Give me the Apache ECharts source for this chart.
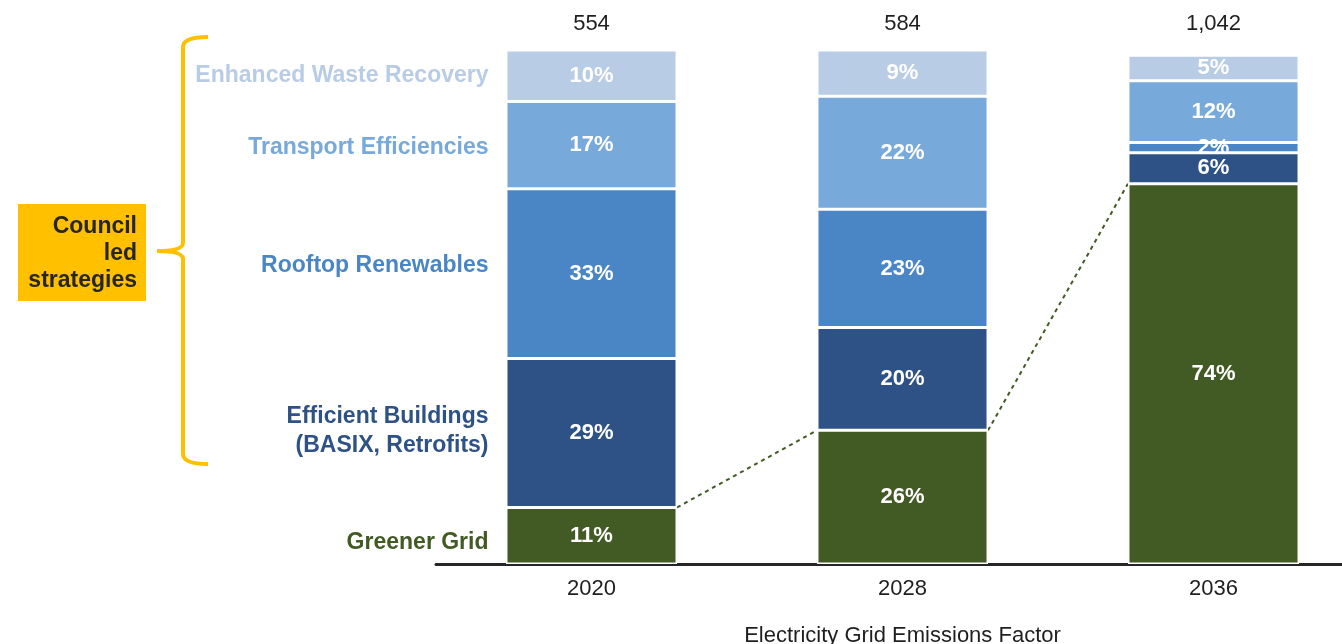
<!DOCTYPE html>
<html>
<head>
<meta charset="utf-8">
<title>Emissions reduction by strategy</title>
<script src="https://cdn.jsdelivr.net/npm/echarts@6.0.0/dist/echarts.min.js"></script>
<style>
  html, body { margin: 0; padding: 0; background: #ffffff; }
  #chart { width: 1342px; height: 644px; }
</style>
</head>
<body>
<div id="chart"></div>
<script>
// Years on the horizontal axis
const years = ['2020', '2028', '2036'];

// Total reduction for each year, shown above the bars
const totals = [554, 584, 1042];

// Share of each strategy per year (%), stacked bottom to top
const greenerGrid = [11, 26, 74];
const efficientBuildings = [29, 20, 6];
const rooftopRenewables = [33, 23, 2];
const transportEfficiencies = [17, 22, 12];
const wasteRecovery = [10, 9, 5];

// Strategy names, bottom to top
const strategyNames = [
  'Greener Grid',
  'Efficient Buildings\n(BASIX, Retrofits)',
  'Rooftop Renewables',
  'Transport Efficiencies',
  'Enhanced Waste Recovery'
];

const stackValues = [greenerGrid, efficientBuildings, rooftopRenewables, transportEfficiencies, wasteRecovery];
const fillColors = ['#425A24', '#2E5285', '#4A86C5', '#77A9DB', '#B8CCE6'];
const nameColors = ['#425A24', '#2E5285', '#4A86C5', '#77A9DB', '#B8CCE6'];
const nameNudge = [7, -2, -8, 3, 0];

const FONT = 'Liberation Sans, Arial, Helvetica, sans-serif';
const BAR_FRACTION = 0.55;

const chart = echarts.init(document.getElementById('chart'), null, { renderer: 'canvas' });

const barSeries = stackValues.map((vals, k) => ({
  type: 'bar',
  name: strategyNames[k],
  stack: 'share',
  barWidth: (BAR_FRACTION * 100) + '%',
  data: vals,
  itemStyle: { color: fillColors[k], borderColor: '#ffffff', borderWidth: 1.5 },
  label: {
    show: true,
    position: 'inside',
    formatter: p => p.value + '%',
    color: '#ffffff',
    fontFamily: FONT,
    fontWeight: 'bold',
    fontSize: 22
  },
  emphasis: { disabled: true },
  z: 2
}));

// Strategy names beside the first bar, centred on its segments
const firstBarNames = [];
let runningBase = 0;
stackValues.forEach((vals, k) => {
  const mid = runningBase + vals[0] / 2;
  runningBase += vals[0];
  firstBarNames.push({
    value: [0, mid],
    label: { formatter: strategyNames[k], color: nameColors[k], offset: [0, nameNudge[k]] }
  });
});

const nameSeries = {
  type: 'scatter',
  data: firstBarNames,
  symbolSize: 0,
  silent: true,
  itemStyle: { opacity: 1 },
  label: {
    show: true,
    position: 'left',
    distance: 103,
    align: 'right',
    fontFamily: FONT,
    fontWeight: 'bold',
    fontSize: 23,
    lineHeight: 29,
    opacity: 1
  },
  z: 3
};

// Totals above each bar
const totalSeries = {
  type: 'scatter',
  data: totals.map((t, i) => ({ value: [i, 100], total: t })),
  symbolSize: 0,
  silent: true,
  itemStyle: { opacity: 1 },
  label: {
    show: true,
    position: 'top',
    distance: 15,
    formatter: p => p.data.total.toLocaleString('en-US'),
    color: '#1f1f1f',
    fontFamily: FONT,
    fontSize: 22,
    opacity: 1
  },
  z: 3
};

// Dashed connectors between the tops of consecutive Greener Grid segments
const connectorData = [];
for (let i = 0; i < greenerGrid.length - 1; i++) {
  connectorData.push([i, greenerGrid[i], greenerGrid[i + 1]]);
}
const connectorSeries = {
  type: 'custom',
  data: connectorData,
  encode: { x: 0, y: 1 },
  silent: true,
  renderItem: (params, api) => {
    const i = api.value(0);
    const a = api.coord([i, api.value(1)]);
    const b = api.coord([i + 1, api.value(2)]);
    const half = api.size([1, 0])[0] * BAR_FRACTION / 2;
    return {
      type: 'line',
      shape: { x1: a[0] + half, y1: a[1], x2: b[0] - half, y2: b[1] },
      style: { stroke: '#425A24', lineWidth: 2, lineDash: [4, 4] }
    };
  },
  z: 1
};

// Curly brace grouping the council-led strategies
const braceStyle = { fill: 'none', stroke: '#FFC000', lineWidth: 4 };
const brace = [
  { type: 'bezierCurve', shape: { x1: 208, y1: 37, cpx1: 183, cpy1: 37, x2: 183, y2: 47 } },
  { type: 'line', shape: { x1: 183, y1: 47, x2: 183, y2: 243 } },
  { type: 'bezierCurve', shape: { x1: 183, y1: 243, cpx1: 183, cpy1: 251, x2: 157, y2: 251 } },
  { type: 'bezierCurve', shape: { x1: 157, y1: 251, cpx1: 183, cpy1: 251, x2: 183, y2: 259 } },
  { type: 'line', shape: { x1: 183, y1: 259, x2: 183, y2: 454 } },
  { type: 'bezierCurve', shape: { x1: 183, y1: 454, cpx1: 183, cpy1: 464, x2: 208, y2: 464 } }
].map(el => Object.assign(el, { style: braceStyle, silent: true }));

chart.setOption({
  animation: false,
  backgroundColor: '#ffffff',
  grid: { left: 436, right: -27, top: 50, bottom: 80, containLabel: false, outerBoundsMode: 'none' },
  xAxis: {
    type: 'category',
    data: years,
    boundaryGap: true,
    axisLine: { show: true, lineStyle: { color: '#262626', width: 3 } },
    axisTick: { show: false },
    axisLabel: { color: '#1f1f1f', fontFamily: FONT, fontSize: 22, margin: 14 },
    name: 'Electricity Grid Emissions Factor',
    nameLocation: 'middle',
    nameGap: 61,
    nameTextStyle: { color: '#1f1f1f', fontFamily: FONT, fontSize: 22 }
  },
  yAxis: {
    type: 'value',
    min: 0,
    max: 100,
    show: false,
    splitLine: { show: false }
  },
  graphic: [
    ...brace,
    {
      type: 'rect',
      shape: { x: 18, y: 204, width: 128, height: 97 },
      style: { fill: '#FFC000' },
      silent: true
    },
    {
      type: 'text',
      style: {
        text: 'Council\nled\nstrategies',
        x: 137,
        y: 254,
        align: 'right',
        verticalAlign: 'middle',
        fill: '#262626',
        font: 'bold 23px ' + FONT,
        lineHeight: 27
      },
      silent: true
    }
  ],
  series: [...barSeries, connectorSeries, nameSeries, totalSeries]
});
</script>
</body>
</html>
